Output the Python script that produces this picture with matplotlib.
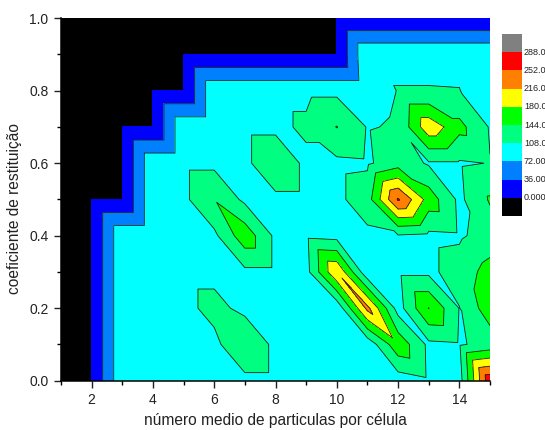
import numpy as np
import matplotlib
matplotlib.use('Agg')
import matplotlib.pyplot as plt
import matplotlib.tri as mtri
from matplotlib.patches import Rectangle

plt.rcParams['font.family'] = ['Liberation Sans', 'DejaVu Sans']

nan = np.nan

# grid of the measurement (x = particles per cell, y = restitution coefficient)
x_vals = [1, 2, 3, 4, 5, 6, 7, 8, 9, 10, 11, 12, 13, 14, 15]
y_vals = [0.0, 0.1, 0.2, 0.3, 0.4, 0.5, 0.6, 0.7, 0.8, 0.9, 1.0]

# values, rows listed from y = 1.0 (top) down to y = 0.0 ; nan = no data
z_rows = [
    [nan, nan, nan, nan, nan, nan, nan, nan, nan,   0,   0,   0,     0,     0,   0],
    [nan, nan, nan, nan,   0,   0,   0,   0,   0,   0, 105, 105,   105,   105, 105],
    [nan, nan, nan,   0,   0, 100, 100, 100, 100, 100, 100, 108.5, 108.5, 108.3, 100],
    [nan, nan,   0,   0, 100, 100, 100, 100, 114, 145, 106, 111,   205,   155, 105],
    [nan, nan,   0, 100, 100, 100, 100, 136, 100, 100, 103, 128,   104,   104, 109],
    [nan,   0,   0, 100, 100, 142, 100, 100, 100, 100, 127, 256,   165,   100, 148],
    [nan,   0, 100, 100, 100, 100, 167, 100, 100,  95, 100, 105,   100,   103, 123],
    [nan,   0, 100, 100, 100, 100, 100, 100,  95, 214,  80, 100,   100,   124, 158],
    [nan,   0, 100, 100, 100, 117, 100, 100, 100,  80, 226,  92,   181,   107, 166],
    [nan,   0, 100, 100, 100, 100, 136, 100, 100, 100,  82, 170,   100,   104, 120],
    [nan,   0, 100, 100, 100, 100, 100, 100, 100, 100, 100,  88,   102,    91, 280],
]

levels = [0, 36, 72, 108, 144, 180, 216, 252, 288]
legend_labels = ['0.000', '36.00', '72.00', '108.0', '144.0', '180.0', '216.0', '252.0', '288.0']
# colours from lowest (below 0) to highest (above 288)
level_colors = ['#000000', '#0000FF', '#0080FF', '#00FFFF', '#00FF80',
                '#00FF00', '#FFFF00', '#FF8000', '#FF0000', '#808080']

# triangulated grid, each cell cut from top-left to bottom-right corner
X, Y = np.meshgrid(x_vals, y_vals)
z = np.array(z_rows[::-1], dtype=float)
nx, ny = len(x_vals), len(y_vals)
tris = []
for j in range(ny - 1):
    for i in range(nx - 1):
        a = j * nx + i
        tris.append([a, a + 1, a + nx])
        tris.append([a + nx, a + nx + 1, a + 1])
tris = np.array(tris)
zf = z.ravel()
missing = np.isnan(zf)
tri = mtri.Triangulation(X.ravel(), Y.ravel(), tris, mask=missing[tris].any(axis=1))
zf = np.where(missing, 0.0, zf)

fig = plt.figure(figsize=(5.45, 4.3), dpi=100)
ax = fig.add_axes([61 / 545, 1 - 380.7 / 430, 429 / 545, 362.5 / 430])
ax.set_facecolor('black')

fill_levels = [-1] + levels[1:] + [1000]
ax.tricontourf(tri, zf, levels=fill_levels, colors=level_colors[1:])
ax.tricontour(tri, zf, levels=levels[1:], colors='#202020', linewidths=0.6)

ax.set_xlim(1, 15)
ax.set_ylim(0, 1)
ax.set_xticks([2, 4, 6, 8, 10, 12, 14])
ax.set_xticks([1, 3, 5, 7, 9, 11, 13, 15], minor=True)
ax.set_yticks([0.0, 0.2, 0.4, 0.6, 0.8, 1.0])
ax.set_yticks([0.1, 0.3, 0.5, 0.7, 0.9], minor=True)
ax.tick_params(which='major', direction='out', length=5, width=1, labelsize=10,
               colors='#222222', pad=4)
ax.tick_params(which='minor', direction='out', length=3, width=1)
for s in ['top', 'right']:
    ax.spines[s].set_visible(False)
for s in ['left', 'bottom']:
    ax.spines[s].set_linewidth(1.1)

ax.set_xlabel('número medio de particulas por célula', fontsize=11.2, color='#222222')
ax.set_ylabel('coeficiente de restituição', fontsize=11.2, color='#222222')
ax.xaxis.set_label_coords(0.5, -0.088)
ax.yaxis.set_label_coords(-0.09, 0.476)

# colour scale legend on the right
lax = fig.add_axes([501.5 / 545, 1 - 216 / 430, 20 / 545, 182 / 430])
for k, c in enumerate(level_colors):
    lax.add_patch(Rectangle((0, k), 1, 1, facecolor=c, edgecolor='none'))
for k, lab in enumerate(legend_labels):
    lax.text(1.12, k + 1, lab, fontsize=6.5, va='center', ha='left', color='#222222')
lax.set_xlim(0, 1)
lax.set_ylim(0, len(level_colors))
lax.axis('off')

fig.savefig('out.png', dpi=100)
